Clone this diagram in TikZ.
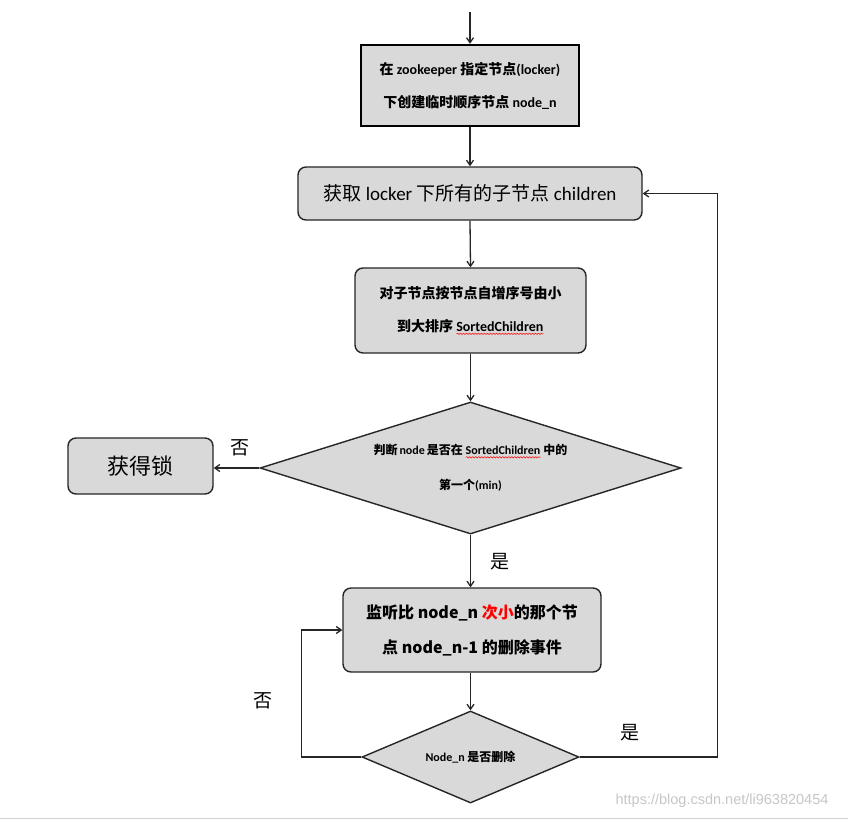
\documentclass[tikz,border=0pt]{standalone}
\usepackage{fontspec}
\setmainfont{Carlito}
\newfontfamily\cjk{Noto Sans CJK SC}
\newfontfamily\wmfont{Liberation Sans}
\usetikzlibrary{arrows.meta,shapes.geometric,decorations.pathmorphing}
\newsavebox\wavebox
\newcommand\redwave[1]{\sbox\wavebox{#1}\rlap{\usebox\wavebox}\tikz[baseline={(0pt,2.5pt)},x=1pt,y=1pt]\draw[red, sharp corners, line width=0.5pt, decorate, decoration={snake, segment length=3pt, amplitude=0.7pt}] (0,0) -- (\wd\wavebox,0);}
\newcommand\zh[1]{{\cjk #1}}
\definecolor{boxgray}{HTML}{D9D9D9}
\tikzset{
  box/.style={draw=black!85, line width=1.4pt, fill=boxgray, rounded corners=8pt, align=center, inner sep=0pt},
  sharpbox/.style={draw=black, line width=2.4pt, fill=boxgray, align=center, inner sep=0pt},
  dia/.style={draw=black!85, line width=1.4pt, fill=boxgray, diamond, align=center, inner sep=0pt},
  conn/.style={draw=black!85, line width=1.3pt, -{Straight Barb[length=5pt,width=7pt]}},
  lbl/.style={font=\cjk\fontsize{19}{19}\selectfont, inner sep=0pt},
}
\begin{document}
\begin{tikzpicture}[x=1pt,y=-1pt]
\useasboundingbox (0,0) rectangle (848,820);
\fill[white] (0,0) rectangle (848,820);
\draw[black!18, line width=1pt] (0,818) -- (848,818);

\coordinate (start) at (470,12);
\node[sharpbox, minimum width=218pt, minimum height=81pt, font=\bfseries\fontsize{14}{33}\selectfont] (b1) at (470,85.5)
  {\zh{在} zookeeper \zh{指定节点}(locker)\\\zh{下创建临时顺序节点} node\_n};
\node[box, minimum width=344pt, minimum height=53pt, font=\fontsize{19}{22}\selectfont] (b2) at (470,193.5)
  {\zh{获取} locker \zh{下所有的子节点} children};
\node[box, minimum width=231pt, minimum height=85pt, font=\bfseries\fontsize{14}{33}\selectfont] (b3) at (470.5,310.5)
  {\zh{对子节点按节点自增序号由小}\\\zh{到大排序} \redwave{SortedChildren}};
\node[dia, shape aspect=3.19, minimum width=421pt, minimum height=132pt, font=\bfseries\fontsize{12}{35}\selectfont] (d1) at (470.5,468)
  {\zh{判断}\,node\,\zh{是否在} \redwave{SortedChildren} \zh{中的}\\\zh{第一个}(min)};
\node[box, minimum width=145pt, minimum height=56pt, font=\cjk\fontsize{22}{22}\selectfont] (b4) at (140.5,466) {获得锁};
\node[box, minimum width=258pt, minimum height=84pt, font=\cjk\bfseries\fontsize{16}{35}\selectfont] (b5) at (472,630)
  {监听比 node\_n \textcolor{red}{次小}的那个节\\点 node\_n-1 的删除事件};
\node[dia, shape aspect=2.36, minimum width=217pt, minimum height=92pt, font=\bfseries\fontsize{12}{14}\selectfont] (d2) at (470.5,757)
  {Node\_n \zh{是否删除}};

\draw[conn] (start) -- (b1.north);
\draw[conn] (b1.south) -- (b2.north);
\draw[conn] (b2.south) -- (b3.north);
\draw[conn] (b3.south) -- (d1.north);
\draw[conn] (d1.west) -- (d1.west -| b4.east);
\draw[conn] (d1.south) -- (d1.south |- b5.north);
\draw[conn] (b5.south -| d2.north) -- (d2.north);
\draw[conn] (d2.west) -- ++(-60,0) |- (b5.west);
\draw[conn] (d2.east) -- ++(138,0) |- (b2.east);

\node[lbl] (n1) at (240,448) {否};
\node[lbl] (y1) at (500,562) {是};
\node[lbl] (n2) at (263,701) {否};
\node[lbl] (y2) at (630,733) {是};

\node[font=\wmfont\fontsize{14.5}{15}\selectfont, text=black!22, inner sep=0pt] (wm) at (722,801) {https://blog.csdn.net/li963820454};
\end{tikzpicture}
\end{document}
